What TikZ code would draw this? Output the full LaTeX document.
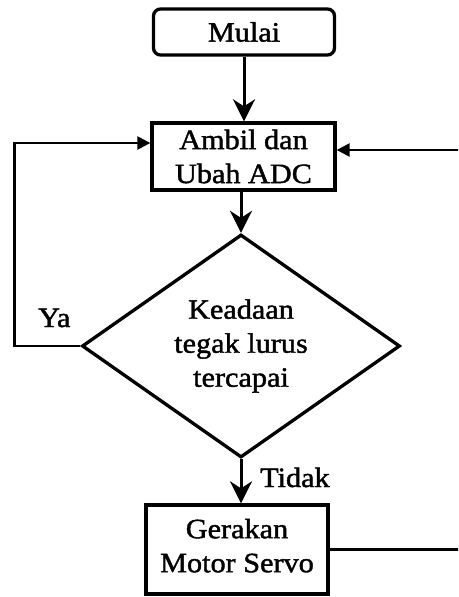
\documentclass[tikz,border=0pt]{standalone}
\usepackage{fontspec}
\setmainfont[FakeStretch=1.08, FakeBold=1.5]{Liberation Serif}
\usetikzlibrary{shapes.geometric,arrows.meta}
\begin{document}
\begin{tikzpicture}[x=1pt,y=-1pt,
  txt/.style={font=\fontsize{28}{34}\selectfont, align=center},
  procbox/.style={draw, line width=3.3pt, txt, inner sep=0pt},
  decision/.style={diamond, draw, line width=3.3pt, txt, inner sep=0pt, shape aspect=1.43},
  flow/.style={line width=3pt, -{Stealth[length=22pt, width=22pt, inset=7pt]}},
  loopline/.style={line width=2.4pt, -{Triangle[length=13pt, width=13pt]}}
]
\useasboundingbox (0,0) rectangle (458,597);
\clip (0,0) rectangle (458,597);

\node[procbox, rounded corners=7pt, minimum width=181pt, minimum height=46pt] (mulai) at (244,32) {Mulai};
\node[procbox, minimum width=183pt, minimum height=67pt] (ambil) at (243.5,156.5) {Ambil dan\\Ubah ADC};
\node[decision, minimum width=318pt, minimum height=223pt] (kep) at (241,346) {Keadaan\\tegak lurus\\tercapai};
\node[procbox, minimum width=182pt, minimum height=89pt, text depth=8pt] (gerak) at (237,549.5) {Gerakan\\Motor Servo};

\node[txt, anchor=base west, inner sep=0pt] (ya) at (38,327) {Ya};
\node[txt, anchor=base west, inner sep=0pt] (tidak) at (260,487) {Tidak};

\draw[flow] (mulai.south) -- (mulai.south |- ambil.north);
\draw[flow] (ambil.south -| kep.north) -- (kep.north);
\draw[flow] (kep.south) -- (kep.south |- gerak.north);

\draw[loopline] (kep.west) -- ++(-66,0) |- ([yshift=13.5pt]ambil.west);
\draw[loopline] (gerak.east) -- ++(160,0) |- ([yshift=6.5pt]ambil.east);
\end{tikzpicture}
\end{document}
